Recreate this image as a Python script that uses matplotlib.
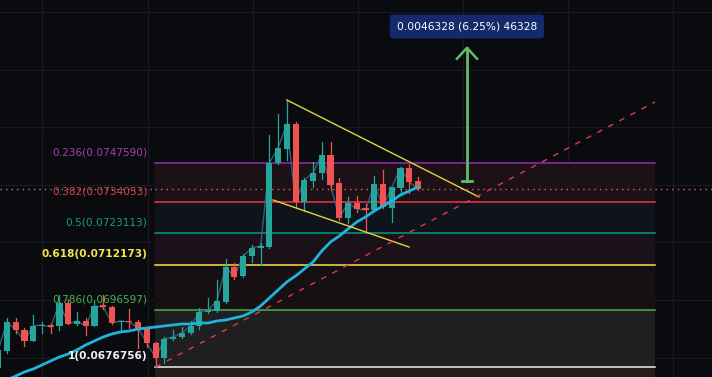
import matplotlib.pyplot as plt

# candle data, one entry per bar (price)
opens = [0.067642, 0.068232, 0.069239, 0.068961, 0.068579, 0.069100, 0.069135, 0.069100,
         0.069899, 0.069170, 0.069274, 0.069100, 0.069829, 0.069760, 0.069239, 0.069274,
         0.069239, 0.069031, 0.068510, 0.067989, 0.068649, 0.068718, 0.068857, 0.069100,
         0.069586, 0.069621, 0.069934, 0.071149, 0.070836, 0.071531, 0.071808, 0.071843,
         0.074760, 0.075246, 0.076114, 0.073406, 0.074135, 0.074412, 0.075037, 0.074065,
         0.072850, 0.073371, 0.073197, 0.073128, 0.074031, 0.073197, 0.073892, 0.074586,
         0.074135]
highs = [0.068441, 0.069378, 0.069378, 0.069031, 0.069482, 0.069239, 0.069170, 0.070177,
         0.070038, 0.069586, 0.069378, 0.070003, 0.070177, 0.069795, 0.069274, 0.069691,
         0.069309, 0.069066, 0.068545, 0.068718, 0.068961, 0.069066, 0.069274, 0.069725,
         0.070072, 0.070697, 0.071427, 0.071288, 0.071600, 0.071913, 0.071982, 0.075732,
         0.076461, 0.076947, 0.076183, 0.074239, 0.074794, 0.075489, 0.075489, 0.074239,
         0.073579, 0.073614, 0.073336, 0.074308, 0.074517, 0.073926, 0.074621, 0.074725,
         0.074274]
lows = [0.067503, 0.068163, 0.068857, 0.068406, 0.068579, 0.068857, 0.068857, 0.068961,
        0.069170, 0.069135, 0.068788, 0.069100, 0.069691, 0.069170, 0.068892, 0.069031,
        0.068336, 0.068371, 0.067676, 0.067816, 0.068614, 0.068684, 0.068823, 0.068996,
        0.069552, 0.069586, 0.069899, 0.070732, 0.070802, 0.071322, 0.071218, 0.071808,
        0.074725, 0.074867, 0.073197, 0.073093, 0.073926, 0.074204, 0.073822, 0.072781,
        0.072676, 0.073058, 0.072364, 0.073128, 0.073197, 0.072711, 0.073649, 0.073718,
        0.073822]
closes = [0.068267, 0.069239, 0.068961, 0.068579, 0.069100, 0.069135, 0.069066, 0.069899,
          0.069170, 0.069274, 0.069100, 0.069795, 0.069760, 0.069204, 0.069274, 0.069239,
          0.069031, 0.068510, 0.067989, 0.068649, 0.068718, 0.068857, 0.069100, 0.069586,
          0.069656, 0.069968, 0.071149, 0.070802, 0.071531, 0.071808, 0.071878, 0.074760,
          0.075280, 0.076114, 0.073406, 0.074169, 0.074412, 0.075037, 0.073996, 0.072850,
          0.073371, 0.073163, 0.073128, 0.074031, 0.073232, 0.073926, 0.074586, 0.074100,
          0.073857]
# moving average, starts at bar 1
ma = [0.067225, 0.067364, 0.067503, 0.067607, 0.067746, 0.067885, 0.068024, 0.068128,
      0.068267, 0.068441, 0.068579, 0.068718, 0.068823, 0.068892, 0.068927, 0.068996,
      0.069031, 0.069066, 0.069100, 0.069135, 0.069170, 0.069170, 0.069204, 0.069204,
      0.069274, 0.069309, 0.069378, 0.069447, 0.069586, 0.069795, 0.070072, 0.070350,
      0.070628, 0.070836, 0.071079, 0.071322, 0.071704, 0.072017, 0.072225, 0.072468,
      0.072711, 0.072885, 0.073093, 0.073267, 0.073440, 0.073649, 0.073787, 0.073926]

fib_ratios = [0.236, 0.382, 0.5, 0.618, 0.786, 1]
fib_prices = [0.0747590, 0.0734053, 0.0723113, 0.0712173, 0.0696597, 0.0676756]
fib_colors = ['#9c27b0', '#f23645', '#089981', '#f7e34a', '#4caf50', '#eeeeee']
fib_text_colors = ['#a43cb8', '#e0404c', '#12a08a', '#f7e34a', '#4caf50', '#f2f2f2']
band_colors = ['#1c1117', '#0f131c', '#1b1118', '#161013', '#1f1f22']

last_price = 0.073857
move_base = 0.074125
move_change = 0.0046328
move_pct = 6.25
move_ticks = 46328

bg = '#0a0b0f'
up = '#26a69a'
down = '#ef5350'

fig = plt.figure(figsize=(7.12, 3.77), dpi=100, facecolor=bg)
ax = fig.add_axes([0, 0, 1, 1])
ax.set_facecolor(bg)
ax.set_xlim(0.2, 81.62)
ax.set_ylim(0.0673284, 0.0804188)

# grid
for gx in [5, 17.1, 29.1, 41.1, 53.15, 65.15, 77.15]:
    ax.axvline(gx, color='#181a20', lw=0.9, zorder=0)
for gy in [0.068, 0.070, 0.072, 0.074, 0.076, 0.078, 0.080]:
    ax.axhline(gy, color='#181a20', lw=0.9, zorder=0)

# fib retracement
fx0, fx1 = 17.92, 75.1
for k in range(len(band_colors)):
    ax.fill_between([fx0, fx1], fib_prices[k + 1], fib_prices[k], color=band_colors[k], lw=0, zorder=1)
ax.fill_between([fx0, fx1], 0.0673284, fib_prices[-1], color='#211d1b', lw=0, zorder=1)
for r, p, c, tc in zip(fib_ratios, fib_prices, fib_colors, fib_text_colors):
    ax.plot([fx0, fx1], [p, p], color=c, lw=1.1, zorder=2)
    bold = r in (0.618, 1)
    ax.text(17.05, p + 0.00037, '{:g}({:.7f})'.format(r, p), color=tc, fontsize=7.6,
            ha='right', va='center', fontweight='bold' if bold else 'normal', zorder=6)

# last price dotted line
ax.plot([0.2, fx0], [last_price, last_price], color='#8a8a90', lw=1, ls=(0, (1, 3)), zorder=2)
ax.plot([fx0, 81.62], [last_price, last_price], color='#e0606a', lw=1, ls=(0, (1, 3)), zorder=2)

# close line
ax.plot(range(len(closes)), closes, color='#2f5f80', lw=1, zorder=3)

# candles
for i in range(len(opens)):
    c = up if closes[i] >= opens[i] else down
    ax.plot([i, i], [lows[i], highs[i]], color=c, lw=0.9, zorder=4)
    lo, hi = min(opens[i], closes[i]), max(opens[i], closes[i])
    ax.bar(i, max(hi - lo, 0.00003), bottom=lo, width=0.7, color=c, lw=0, zorder=4)

# moving average
ax.plot(range(1, len(ma) + 1), ma, color='#1eb4dc', lw=2, zorder=5)

# triangle
ax.plot([33, 54.97], [0.076947, 0.073579], color='#e6d33a', lw=1, zorder=5)
ax.plot([31.42, 46.97], [0.073475, 0.071843], color='#e6d33a', lw=1, zorder=5)

# rising trend line
ax.plot([18, 75.1], [0.067676, 0.076878], color='#e03a4a', lw=1, ls=(0, (4, 5)), zorder=5)

# measured move arrow
ax_x = 53.6
top = move_base + move_change
ac = '#62bb6b'
ax.plot([ax_x, ax_x], [move_base, top], color=ac, lw=2, zorder=6)
ax.plot([ax_x - 0.55, ax_x + 0.55], [move_base, move_base], color=ac, lw=2, zorder=6)
ax.plot([ax_x - 1.15, ax_x, ax_x + 1.15], [top - 0.00038, top, top - 0.00038], color=ac, lw=1.8, zorder=6)
ax.text(ax_x, 0.079499, '{:.7f} ({:.2f}%) {}'.format(move_change, move_pct, move_ticks),
        color='white', fontsize=7.7, ha='center', va='center', zorder=7,
        bbox=dict(boxstyle='round,pad=0.65,rounding_size=0.3', fc='#142a6c', ec='none'))

ax.set_xticks([])
ax.set_yticks([])
for s in ax.spines.values():
    s.set_visible(False)

fig.savefig('out.png', dpi=100, facecolor=bg)
